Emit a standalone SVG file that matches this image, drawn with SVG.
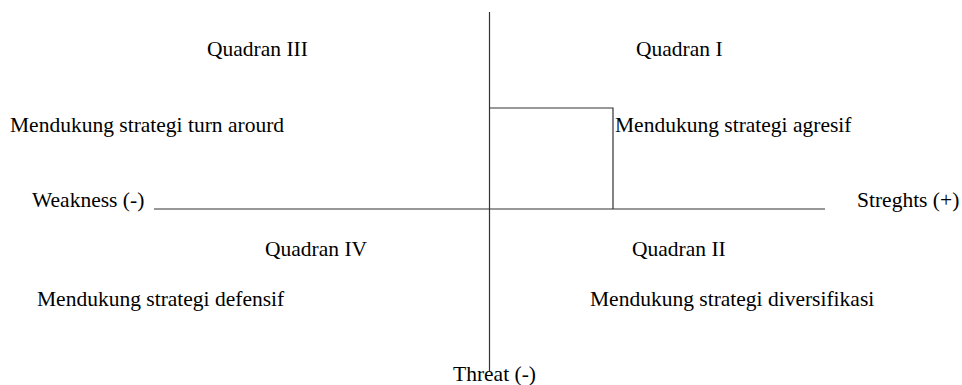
<svg xmlns="http://www.w3.org/2000/svg" width="962" height="385" viewBox="0 0 962 385">
<style>
text{font-family:"Liberation Serif","Times New Roman",serif;font-size:21.5px;fill:#000}
.ln{stroke:#333;stroke-width:1.2;fill:none}
</style>
<rect width="962" height="385" fill="#fff"/>
<g id="connectors">
<line class="ln" x1="489.5" y1="12" x2="489.5" y2="372"/>
<line class="ln" x1="154" y1="209" x2="825" y2="209"/>
<polyline class="ln" points="489.5,108 613,108 613,209"/>
</g>
<g id="q3"><text x="207" y="56">Quadran III</text><text x="10" y="132">Mendukung strategi turn arourd</text></g>
<g id="q1"><text x="636" y="56">Quadran I</text><text x="615" y="132">Mendukung strategi agresif</text></g>
<g id="weak"><text x="32" y="207">Weakness (-)</text></g>
<g id="str"><text x="857" y="207">Streghts (+)</text></g>
<g id="q4"><text x="265" y="256">Quadran IV</text><text x="37" y="306">Mendukung strategi defensif</text></g>
<g id="q2"><text x="632" y="256">Quadran II</text><text x="590" y="306">Mendukung strategi diversifikasi</text></g>
<g id="threat"><text x="453" y="381">Threat (-)</text></g>
</svg>
